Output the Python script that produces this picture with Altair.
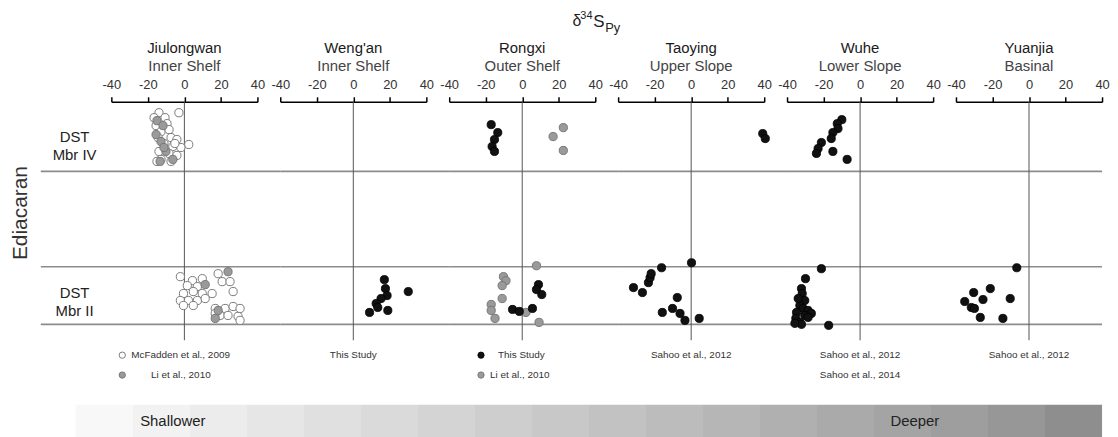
import altair as alt
import pandas as pd

# ---------------- data ----------------
sites = ["Jiulongwan", "Weng'an", "Rongxi", "Taoying", "Wuhe", "Yuanjia"]
settings = ["Inner Shelf", "Inner Shelf", "Outer Shelf", "Upper Slope", "Lower Slope", "Basinal"]
ticks = [-40, -20, 0, 20, 40]

# band boundaries (relative stratigraphic position)
band_lines = [170, 74, 16]
band_names = ["DST\nMbr IV", "DST\nMbr II"]
band_centers = [205, 48]

# Jiulongwan - McFadden et al., 2009 (open)
jlw_mcf_d34s = [-13.9, -3.0, -16.6, -10.6, -15.5, -9.5, -12.8, -8.4, -14.4, -7.3, -4.1, 2.4,
                -11.2, -6.3, -1.9, -13.9, -8.4, -4.1, -12.8, -7.3, -15.0, -5.2,
                -2.2, 4.4, 9.8, 1.6, 7.1, -0.5, 4.9, 9.8, 15.2, -2.2, 2.2, 7.1, 11.4, -0.5,
                4.9, 18.5, 20.7, 25.0, 26.7, 16.9, 22.3, 26.7, 30.5, 19.6, 23.9, 29.4, 30.5, 16.9]
jlw_mcf_pos = [229, 229, 224, 224, 216, 218, 210, 212, 204, 204, 202, 197,
               198, 195, 194, 190, 188, 186, 182, 180, 180, 198,
               64, 60, 62, 55, 54, 47, 49, 47, 47, 40, 40, 40, 42, 35,
               35, 67, 59, 59, 49, 32, 32, 34, 32, 25, 25, 24, 20, 27]
# Jiulongwan - Li et al., 2010 (grey)
jlw_li_d34s = [-15.0, -11.7, -15.5, -12.8, -10.1, -13.3, -6.3, -11.2, 23.9, 11.4, 18.5, 16.9]
jlw_li_pos = [221, 216, 207, 200, 190, 180, 182, 194, 69, 56, 30, 22]

# Weng'an - This Study
wa_d34s = [17.0, 17.6, 18.5, 15.2, 12.5, 13.4, 8.9, 18.9, 30.1]
wa_pos = [61, 52, 45, 42, 37, 33, 28, 30, 49]

# Rongxi - This Study (black) and Li et al., 2010 (grey)
rx_ts_d34s = [-17.0, -13.4, -15.2, -16.5, -15.2, -5.3, -1.6, 5.6, 8.9, 7.8, 10.7]
rx_ts_pos = [217, 209, 202, 195, 190, 31, 29, 32, 56, 51, 46]
rx_li_d34s = [22.5, 16.9, 22.5, -10.3, -8.9, -11.0, -11.0, -17.0, -17.0, -14.9, 2.0, 7.8, 9.2]
rx_li_pos = [214, 205, 191, 64, 60, 55, 42, 36, 30, 22, 28, 75, 18]

# Taoying - Sahoo et al., 2012
ty_d34s = [39.2, 40.6, -31.6, -26.7, -23.4, -22.5, -21.9, -16.2, 0.2, -7.6, -15.8, -10.2, -6.1, -3.4, 4.4]
ty_pos = [208, 203, 53, 48, 58, 63, 67, 73, 78, 43, 28, 32, 27, 20, 22]

# Wuhe - Sahoo et al., 2012, 2014
wh_d34s = [-10.0, -12.5, -12.1, -14.9, -15.8, -21.2, -23.0, -23.9, -14.9, -7.1,
           -21.2, -29.9, -32.1, -31.7, -30.3, -33.0, -31.2, -28.5, -26.7, -34.8, -30.3,
           -35.2, -33.0, -32.1, -35.7, -17.2, -28.5, -33.9]
wh_pos = [222, 218, 213, 209, 203, 199, 193, 188, 190, 182,
          72, 62, 52, 47, 40, 35, 32, 30, 27, 28, 25,
          22, 18, 16, 17, 15, 23, 42]

# Yuanjia - Sahoo et al., 2012
yj_d34s = [-6.7, -30.3, -21.2, -25.2, -35.2, -31.6, -29.9, -26.7, -14.3, -10.3]
yj_pos = [73, 48, 52, 41, 39, 33, 32, 23, 22, 42]

legend_rows = [
    [("open", "McFadden et al., 2009"), ("grey", "Li et al., 2010")],
    [(None, "This Study")],
    [("black", "This Study"), ("grey", "Li et al., 2010")],
    [(None, "Sahoo et al., 2012")],
    [(None, "Sahoo et al., 2012"), (None, "Sahoo et al., 2014")],
    [(None, "Sahoo et al., 2012")],
]

depth_steps = ["#f8f8f8", "#f2f2f2", "#ececec", "#e6e6e6", "#e0e0e0", "#dadada", "#d4d4d4",
               "#cecece", "#c8c8c8", "#c2c2c2", "#bcbcbc", "#b6b6b6", "#b0b0b0", "#aaaaaa",
               "#a4a4a4", "#9e9e9e", "#979797", "#8e8e8e"]

# ---------------- build table ----------------
rows = []
def add(site, style, xs, ps):
    for v, p in zip(xs, ps):
        rows.append({"site": site, "style": style, "d34S": v, "pos": p})

add("Jiulongwan", "open", jlw_mcf_d34s, jlw_mcf_pos)
add("Jiulongwan", "grey", jlw_li_d34s, jlw_li_pos)
add("Weng'an", "black", wa_d34s, wa_pos)
add("Rongxi", "grey", rx_li_d34s, rx_li_pos)
add("Rongxi", "black", rx_ts_d34s, rx_ts_pos)
add("Taoying", "black", ty_d34s, ty_pos)
add("Wuhe", "black", wh_d34s, wh_pos)
add("Yuanjia", "black", yj_d34s, yj_pos)
pts = pd.DataFrame(rows)

W, H, GAP = 147, 240, 23
FONT = "Liberation Sans"
STYLES = {
    "open": dict(fill="white", stroke="#7a7a7a", strokeWidth=1),
    "grey": dict(fill="#9a9a9a", stroke="#777777", strokeWidth=1),
    "black": dict(fill="#111111", stroke="#000000", strokeWidth=0.8),
}

xscale = alt.Scale(domain=[-40, 40], nice=False, zero=False)
yscale = alt.Scale(domain=[0, H], nice=False, zero=False)
xaxis = alt.Axis(orient="top", values=ticks, labelExpr="'' + datum.value",
                 title=None, grid=False, domainColor="#000", domainWidth=1.5,
                 tickColor="#000", tickWidth=1.5, tickSize=5,
                 labelFontSize=13, labelColor="#333", labelFont=FONT,
                 labelPadding=5, labelOverlap=False, labelFlush=False)


def xenc(field):
    return alt.X(field, scale=xscale, axis=xaxis)


def text_layer(txt, x, y, size, color="#222", align="center", baseline="middle", angle=0, font=FONT):
    kw = dict(fontSize=size, color=color, align=align, baseline=baseline, font=font)
    if angle:
        kw["angle"] = angle
    return alt.Chart(pd.DataFrame({"t": [txt]})).mark_text(**kw).encode(
        text="t:N", x=alt.value(x), y=alt.value(y))


def panel(i):
    site = sites[i]
    layers = []
    # horizontal band lines
    x0 = -71 if i == 0 else 0
    x1 = W if i == len(sites) - 1 else W + GAP
    layers.append(
        alt.Chart(pd.DataFrame({"pos": band_lines})).mark_rule(color="#8c8c8c", strokeWidth=1.6)
        .encode(y=alt.Y("pos:Q", scale=yscale, axis=None), x=alt.value(x0), x2=alt.value(x1))
    )
    # zero line
    layers.append(
        alt.Chart(pd.DataFrame({"d34S": [0], "top": [H], "bot": [0]})).mark_rule(color="#555", strokeWidth=1)
        .encode(x=xenc("d34S:Q"), y=alt.Y("top:Q", scale=yscale, axis=None), y2="bot:Q")
    )
    sub = pts[pts.site == site]
    for style in ["open", "grey", "black"]:
        d = sub[sub["style"] == style]
        if len(d) == 0:
            continue
        layers.append(
            alt.Chart(d).mark_circle(size=68, opacity=1, **STYLES[style])
            .encode(x=xenc("d34S:Q"), y=alt.Y("pos:Q", scale=yscale, axis=None))
        )
    # panel titles
    layers.append(text_layer(site, W / 2, -54, 15, "#1a1a1a"))
    layers.append(text_layer(settings[i], W / 2, -36, 15, "#444"))
    # legends
    for r, (style, label) in enumerate(legend_rows[i]):
        ly = 255 + 20 * r
        if style is None:
            layers.append(text_layer(label, W / 2, ly, 10, "#333"))
        else:
            if i == 0:
                mx, tx = 11, (20 if r == 0 else 40)
            else:
                mx, tx = 32, (49 if r == 0 else 41)
            layers.append(
                alt.Chart(pd.DataFrame({"s": [style]})).mark_circle(size=40, opacity=1, **STYLES[style])
                .encode(x=alt.value(mx), y=alt.value(ly))
            )
            layers.append(text_layer(label, tx, ly, 10, "#333", align="left"))
    if i == 0:
        layers.append(
            alt.Chart(pd.DataFrame({"pos": band_centers, "name": band_names}))
            .mark_text(fontSize=15, color="#222", font=FONT, lineBreak="\n", align="center", baseline="middle", lineHeight=19)
            .encode(text="name:N", y=alt.Y("pos:Q", scale=yscale, axis=None), x=alt.value(-37))
        )
        layers.append(text_layer("Ediacaran", -91, 112, 21, "#333", angle=270))
        n = len(depth_steps)
        stops = []
        for k, c in enumerate(depth_steps):
            stops.append(alt.GradientStop(color=c, offset=k / n))
            stops.append(alt.GradientStop(color=c, offset=(k + 1) / n))
        layers.append(
            alt.Chart(pd.DataFrame({"a": [0]})).mark_rect(
                color=alt.Gradient(gradient="linear", stops=stops, x1=0, x2=1, y1=0, y2=0))
            .encode(x=alt.value(-36), x2=alt.value(997), y=alt.value(305), y2=alt.value(340))
        )
        layers.append(text_layer("Shallower", 29, 321, 15, "#222", align="left"))
        layers.append(text_layer("Deeper", 784, 321, 15, "#222", align="left"))
    if i == 2:
        layers.append(text_layer("δ", 124, -76, 16, "#222", align="left", baseline="alphabetic"))
        layers.append(text_layer("34", 132, -83, 11, "#222", align="left", baseline="alphabetic"))
        layers.append(text_layer("S", 145, -75, 17, "#222", align="left", baseline="alphabetic"))
        layers.append(text_layer("Py", 157, -70, 13, "#222", align="left", baseline="alphabetic"))
    return alt.layer(*layers).properties(width=W, height=H)


chart = alt.hconcat(*[panel(i) for i in range(len(sites))], spacing=GAP, bounds="flush").properties(
    padding={"left": 2, "top": 1, "right": 0, "bottom": 0}
).configure_view(stroke=None)

chart.save("out.html", embed_options={"renderer": "svg", "actions": False})
